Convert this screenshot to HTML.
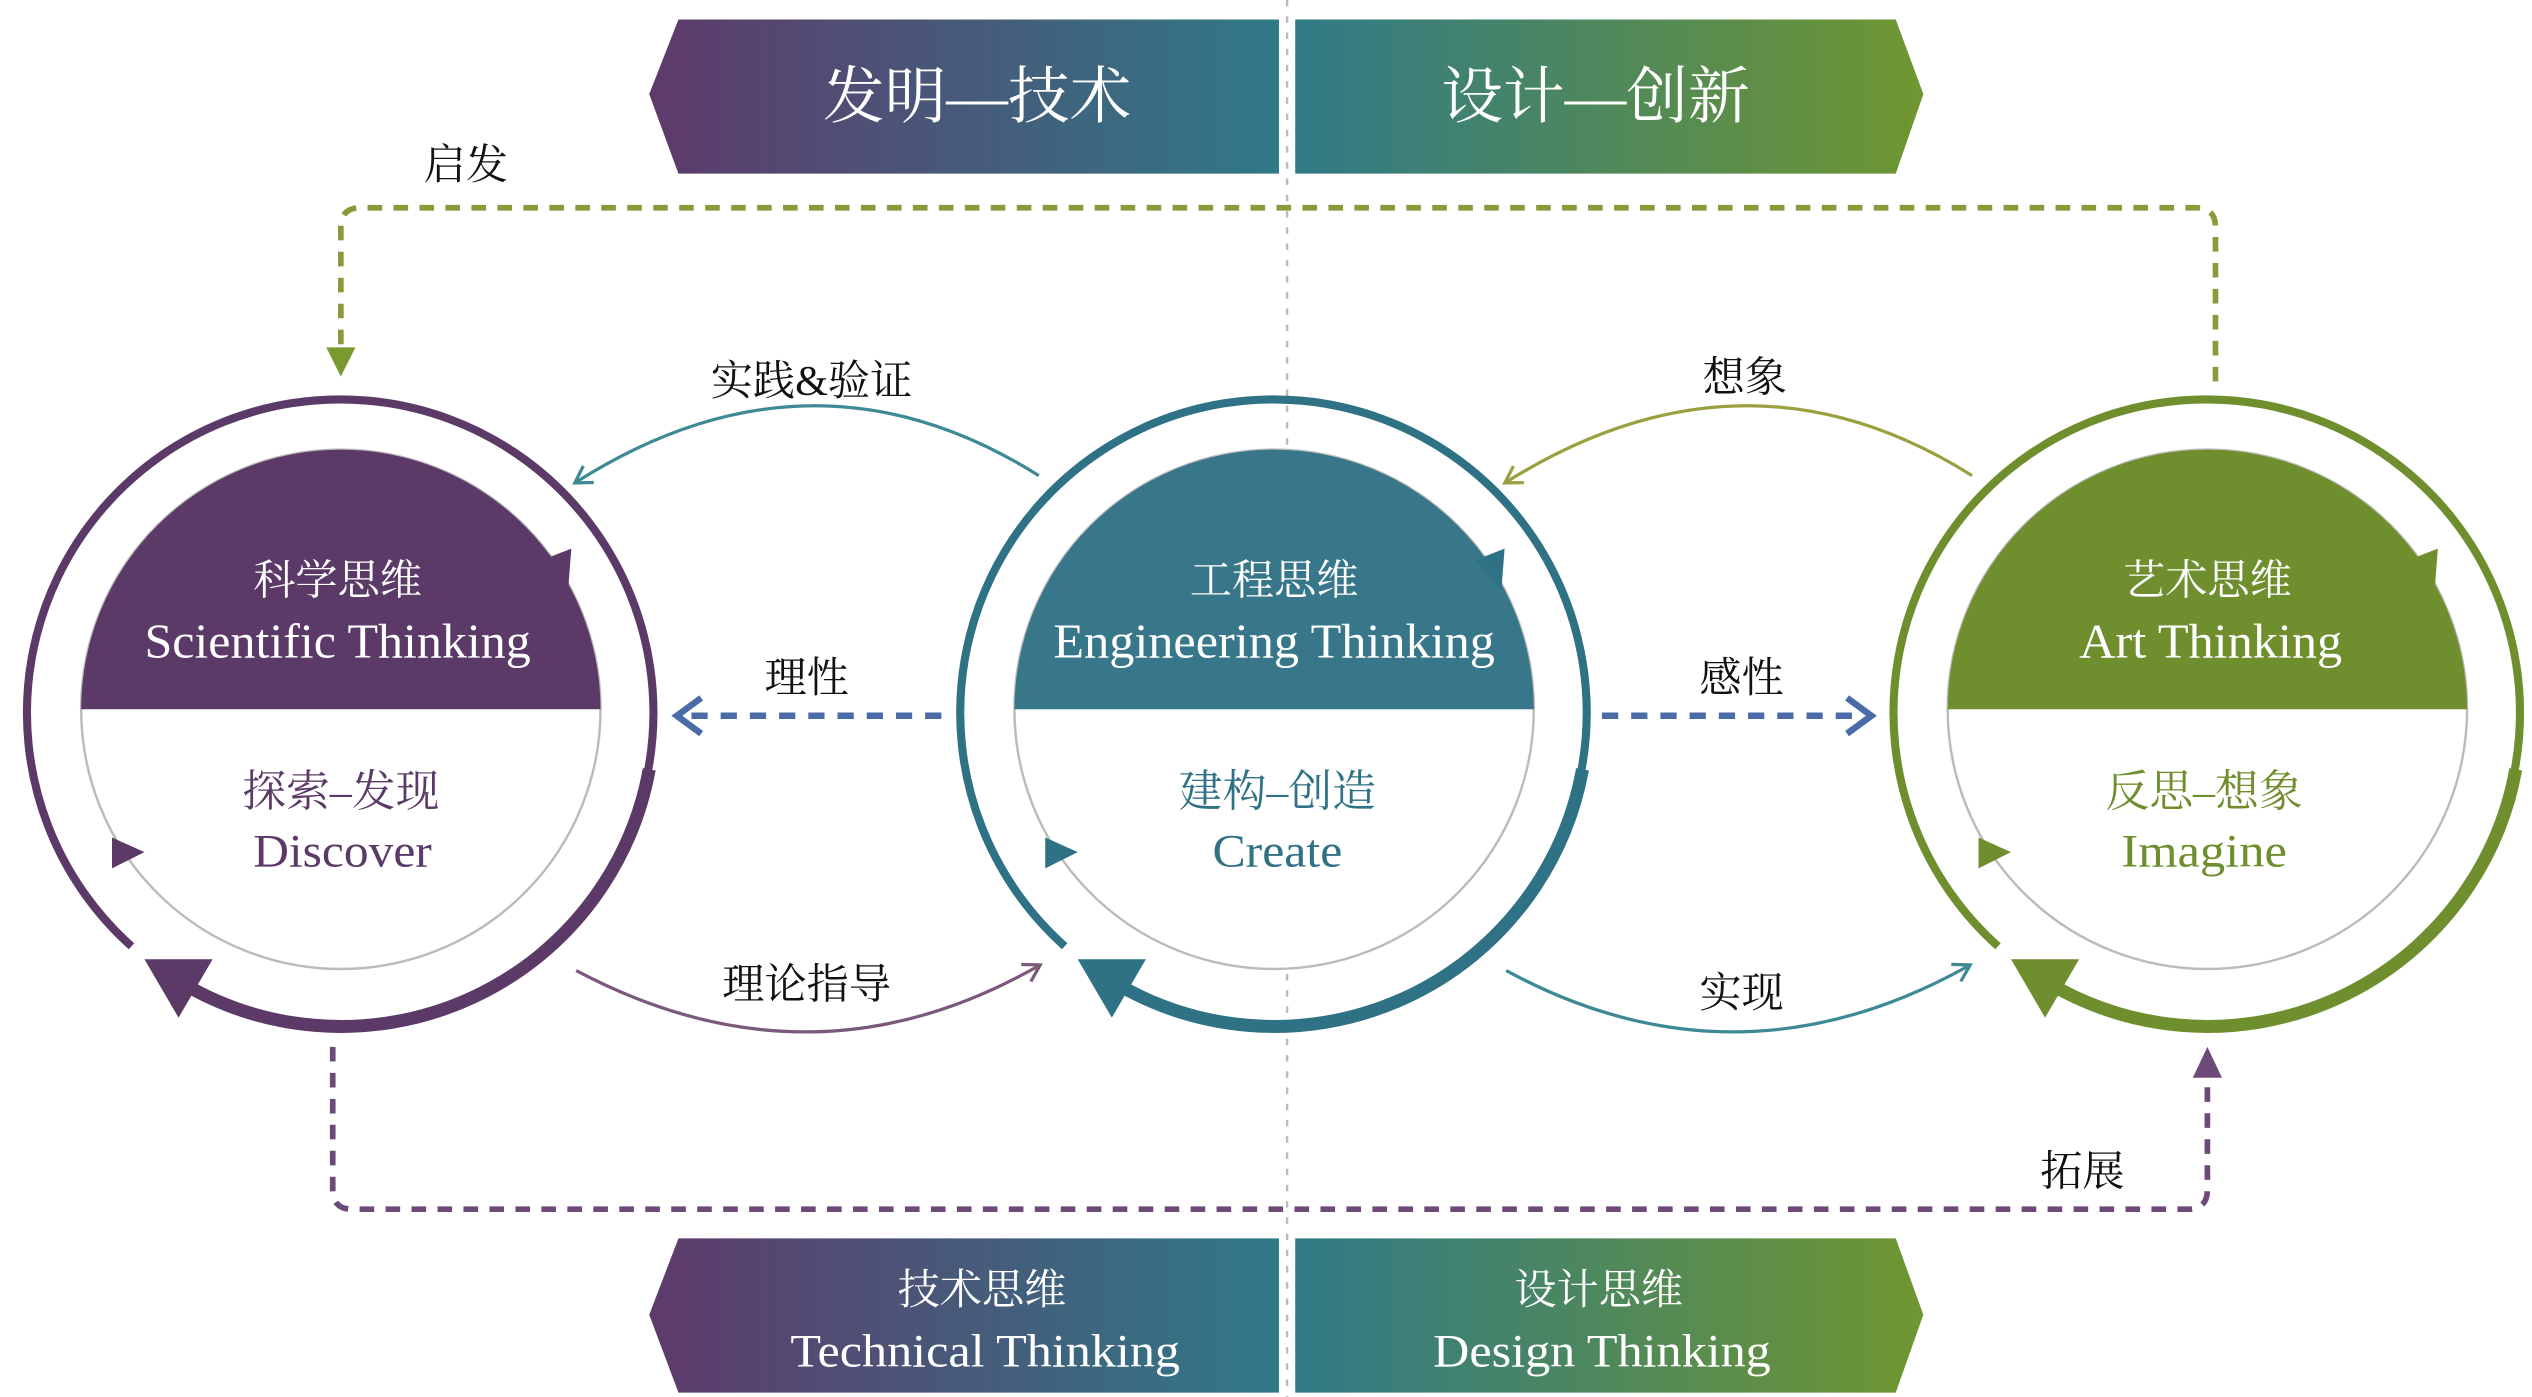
<!DOCTYPE html>
<html><head><meta charset="utf-8"><style>
html,body{margin:0;padding:0;background:#fff;}
svg{display:block;}
text{font-family:"Liberation Serif","Noto Serif CJK SC",serif;}
</style></head><body>
<svg width="2532" height="1397" viewBox="0 0 1560 860.7" preserveAspectRatio="none" xmlns="http://www.w3.org/2000/svg">
<defs>
<linearGradient id="bg" gradientUnits="userSpaceOnUse" x1="400" y1="0" x2="1185" y2="0">
<stop offset="0" stop-color="#5e3a6b"/><stop offset="0.5" stop-color="#2f7a88"/><stop offset="1" stop-color="#6f9630"/>
</linearGradient>
<marker id="mT" markerWidth="14" markerHeight="14" refX="10" refY="7" orient="auto" markerUnits="userSpaceOnUse"><path d="M1,1 L11,7 L1,13" fill="none" stroke="#3e8a94" stroke-width="2"/></marker>
<marker id="mO" markerWidth="14" markerHeight="14" refX="10" refY="7" orient="auto" markerUnits="userSpaceOnUse"><path d="M1,1 L11,7 L1,13" fill="none" stroke="#9aa040" stroke-width="2"/></marker>
<marker id="mP" markerWidth="14" markerHeight="14" refX="10" refY="7" orient="auto" markerUnits="userSpaceOnUse"><path d="M1,1 L11,7 L1,13" fill="none" stroke="#7a5a7a" stroke-width="2"/></marker>
<marker id="mT2" markerWidth="14" markerHeight="14" refX="10" refY="7" orient="auto" markerUnits="userSpaceOnUse"><path d="M1,1 L11,7 L1,13" fill="none" stroke="#3e8a94" stroke-width="2"/></marker>
</defs>

<line x1="793" y1="0" x2="793" y2="861" stroke="#bbb" stroke-width="1.5" stroke-dasharray="4 6"/>

<!-- banners -->
<polygon points="400,58 418,12 788,12 788,107 418,107" fill="url(#bg)"/>
<polygon points="798,12 1168,12 1185,58 1168,107 798,107" fill="url(#bg)"/>
<polygon points="400,810 418,763 788,763 788,858 418,858" fill="url(#bg)"/>
<polygon points="798,763 1168,763 1185,810 1168,858 798,858" fill="url(#bg)"/>
<text x="602" y="60" font-size="38" fill="#fff" text-anchor="middle" dominant-baseline="central">发明—技术</text>
<text x="983" y="60" font-size="38" fill="#fff" text-anchor="middle" dominant-baseline="central">设计—创新</text>
<text x="605" y="795" font-size="26" fill="#fff" text-anchor="middle" dominant-baseline="central">技术思维</text>
<text x="607" y="842" font-size="29" fill="#fff" text-anchor="middle" textLength="240" lengthAdjust="spacingAndGlyphs">Technical Thinking</text>
<text x="985" y="795" font-size="26" fill="#fff" text-anchor="middle" dominant-baseline="central">设计思维</text>
<text x="987" y="842" font-size="29" fill="#fff" text-anchor="middle" textLength="208" lengthAdjust="spacingAndGlyphs">Design Thinking</text>

<!-- loops -->
<path d="M1365,235 V140 Q1365,128 1353,128 H222 Q210,128 210,140 V215" fill="none" stroke="#8a9a3a" stroke-width="3.5" stroke-dasharray="9 7"/>
<polygon points="201,214 219,214 210,232" fill="#7a9a30"/>
<path d="M205,645 V733 Q205,745 217,745 H1348 Q1360,745 1360,733 V662" fill="none" stroke="#6e4a78" stroke-width="3.5" stroke-dasharray="9 7"/>
<polygon points="1351,664 1369,664 1360,645" fill="#6e4a78"/>

<!-- labels -->
<g font-size="26" fill="#111" text-anchor="middle" dominant-baseline="central">
<text x="287" y="102">启发</text>
<text x="500" y="235">实践&amp;验证</text>
<text x="1075" y="233">想象</text>
<text x="497" y="418">理性</text>
<text x="1073" y="418">感性</text>
<text x="497" y="607">理论指导</text>
<text x="1073" y="612">实现</text>
<text x="1283" y="722">拓展</text>
</g>

<!-- curved arrows -->
<path d="M640,293 Q500,205 355,297" fill="none" stroke="#3e8a94" stroke-width="2" marker-end="url(#mT)"/>
<path d="M1215,293 Q1075,205 928,297" fill="none" stroke="#9aa040" stroke-width="2" marker-end="url(#mO)"/>
<path d="M355,598 Q500,675 640,595" fill="none" stroke="#7a5a7a" stroke-width="2" marker-end="url(#mP)"/>
<path d="M928,598 Q1070,675 1213,595" fill="none" stroke="#3e8a94" stroke-width="2" marker-end="url(#mT2)"/>

<!-- dashed straight arrows -->
<line x1="580" y1="441" x2="422" y2="441" stroke="#4a6aa8" stroke-width="4" stroke-dasharray="10 8"/>
<path d="M432,430 L417,441 L432,452" fill="none" stroke="#4a6aa8" stroke-width="4"/>
<line x1="987" y1="441" x2="1148" y2="441" stroke="#4a6aa8" stroke-width="4" stroke-dasharray="10 8"/>
<path d="M1138,430 L1153,441 L1138,452" fill="none" stroke="#4a6aa8" stroke-width="4"/>

<!-- circle 1 -->
<g transform="translate(210,440)">
<path d="M-129,143 A193 193 0 1 1 -99,165" fill="none" stroke="#5b3a68" stroke-width="5"/>
<path d="M190,34 A193 193 0 0 1 -99,165" fill="none" stroke="#5b3a68" stroke-width="8"/>
<polygon points="-121,151 -79,151 -100,187" fill="#5b3a68"/>
<circle cx="0" cy="-3" r="160" fill="#fff" stroke="#bbb" stroke-width="1.5"/>
<path d="M-160,-3 A160 160 0 0 1 160,-3 Z" fill="#5b3a68"/>
<polygon points="124,-95 142,-102 140,-76" fill="#5b3a68"/>
<polygon points="-141,76 -121,85 -141,95" fill="#5b3a68"/>
<text x="-2" y="-82" font-size="26" fill="#fff" text-anchor="middle" dominant-baseline="central">科学思维</text>
<text x="-2" y="-35" font-size="30" fill="#fff" text-anchor="middle" textLength="238" lengthAdjust="spacingAndGlyphs">Scientific Thinking</text>
<text x="0" y="48" font-size="27" fill="#5b3a68" text-anchor="middle" dominant-baseline="central">探索–发现</text>
<text x="1" y="94" font-size="29" fill="#5b3a68" text-anchor="middle" textLength="110" lengthAdjust="spacingAndGlyphs">Discover</text>
</g>

<!-- circle 2 -->
<g transform="translate(785,440)">
<path d="M-129,143 A193 193 0 1 1 -99,165" fill="none" stroke="#2f7185" stroke-width="5"/>
<path d="M190,34 A193 193 0 0 1 -99,165" fill="none" stroke="#2f7185" stroke-width="8"/>
<polygon points="-121,151 -79,151 -100,187" fill="#2f7185"/>
<circle cx="0" cy="-3" r="160" fill="#fff" stroke="#bbb" stroke-width="1.5"/>
<path d="M-160,-3 A160 160 0 0 1 160,-3 Z" fill="#387789"/>
<polygon points="124,-95 142,-102 140,-76" fill="#2f7185"/>
<polygon points="-141,76 -121,85 -141,95" fill="#2f7185"/>
<text x="0" y="-82" font-size="26" fill="#fff" text-anchor="middle" dominant-baseline="central">工程思维</text>
<text x="0" y="-35" font-size="30" fill="#fff" text-anchor="middle" textLength="272" lengthAdjust="spacingAndGlyphs">Engineering Thinking</text>
<text x="2" y="48" font-size="27" fill="#2f7185" text-anchor="middle" dominant-baseline="central">建构–创造</text>
<text x="2" y="94" font-size="29" fill="#2f7185" text-anchor="middle" textLength="80" lengthAdjust="spacingAndGlyphs">Create</text>
</g>

<!-- circle 3 -->
<g transform="translate(1360,440)">
<path d="M-129,143 A193 193 0 1 1 -99,165" fill="none" stroke="#6f8f2e" stroke-width="5"/>
<path d="M190,34 A193 193 0 0 1 -99,165" fill="none" stroke="#6f8f2e" stroke-width="8"/>
<polygon points="-121,151 -79,151 -100,187" fill="#6f8f2e"/>
<circle cx="0" cy="-3" r="160" fill="#fff" stroke="#bbb" stroke-width="1.5"/>
<path d="M-160,-3 A160 160 0 0 1 160,-3 Z" fill="#6f8f2e"/>
<polygon points="124,-95 142,-102 140,-76" fill="#6f8f2e"/>
<polygon points="-141,76 -121,85 -141,95" fill="#6f8f2e"/>
<text x="0" y="-82" font-size="26" fill="#fff" text-anchor="middle" dominant-baseline="central">艺术思维</text>
<text x="2" y="-35" font-size="30" fill="#fff" text-anchor="middle" textLength="162" lengthAdjust="spacingAndGlyphs">Art Thinking</text>
<text x="-2" y="48" font-size="27" fill="#6f8f2e" text-anchor="middle" dominant-baseline="central">反思–想象</text>
<text x="-2" y="94" font-size="29" fill="#6f8f2e" text-anchor="middle" textLength="102" lengthAdjust="spacingAndGlyphs">Imagine</text>
</g>
</svg>
</body></html>
